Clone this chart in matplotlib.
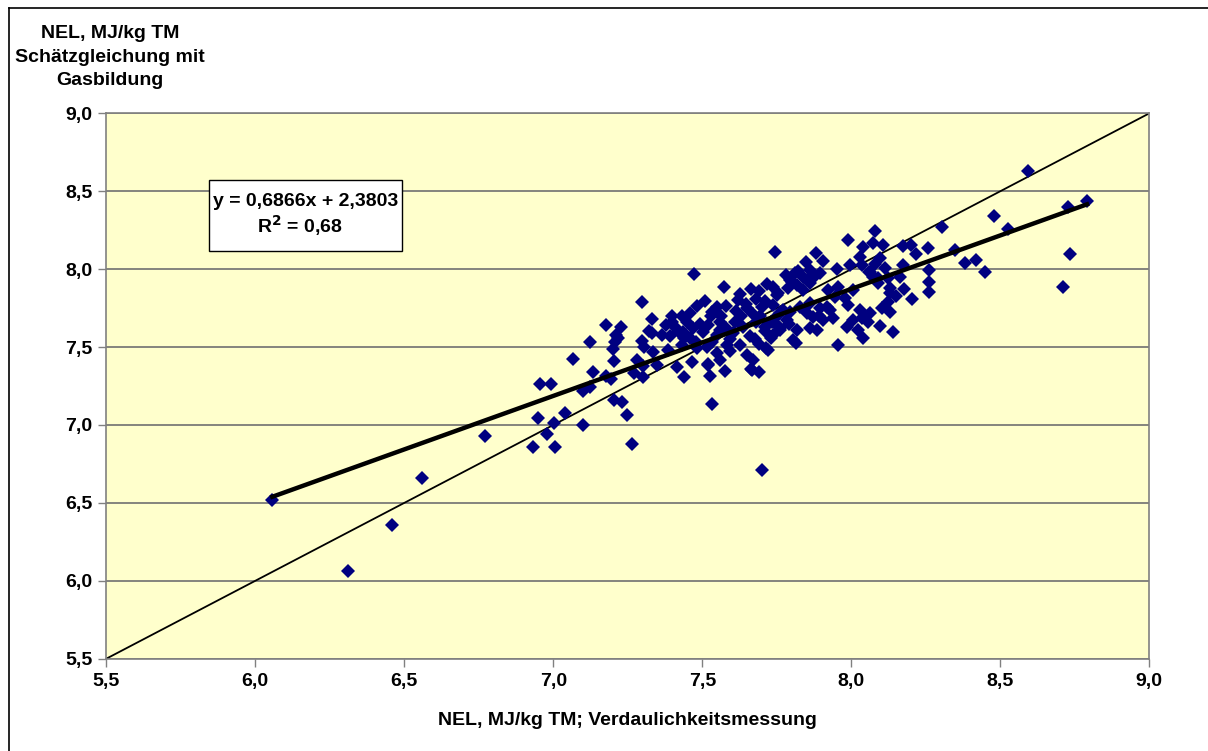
import numpy as np
import matplotlib as mpl

mpl.use('agg')

import matplotlib.pyplot as plt
from matplotlib.lines import Line2D

plt.rcParams['font.family'] = ['Liberation Sans', 'DejaVu Sans']

## Data: NEL (digestibility) vs NEL (gas production equation)
nel_measured = [
    # outliers, low end
    6.057, 6.31, 6.46, 6.56, 6.77,
    # left part of the cloud
    7.473, 7.298, 7.178, 7.226, 7.209, 7.218, 7.207, 7.199, 7.122, 7.320,
    7.299, 7.305, 7.065, 7.203, 7.280, 7.300, 7.134, 7.176, 7.193, 7.271,
    7.300, 6.956, 6.992, 7.123, 7.099, 7.205, 7.232, 6.950, 7.040, 7.003,
    7.101, 7.247, 6.978, 6.933, 7.006, 7.264, 7.533, 7.520,
    # dense core, left
    7.573, 7.663, 7.690, 7.718, 7.627, 7.510, 7.481, 7.548, 7.580, 7.612,
    7.646, 7.680, 7.710, 7.738, 7.750, 7.398, 7.433, 7.459, 7.534, 7.563,
    7.377, 7.409, 7.492, 7.503, 7.434, 7.559, 7.609, 7.638, 7.694, 7.710,
    7.729, 7.332, 7.330, 7.364, 7.391, 7.459, 7.531, 7.593, 7.660, 7.336,
    7.386, 7.431, 7.481, 7.548, 7.593, 7.627, 7.677, 7.714, 7.649, 7.671,
    7.347, 7.414, 7.464, 7.520, 7.559, 7.576, 7.663, 7.691, 7.439, 7.526,
    7.515, 7.582, 7.604, 7.666, 7.813, 7.700,
    7.45, 7.47, 7.44, 7.48, 7.53, 7.56, 7.58, 7.55, 7.52, 7.62,
    7.65, 7.67, 7.70, 7.63, 7.68, 7.71, 7.73, 7.69, 7.75, 7.72,
    7.40, 7.42,
    # dense core, right
    7.744, 7.990, 8.040, 8.074, 8.107, 7.880, 7.906, 8.029, 8.096, 7.849,
    7.861, 7.951, 7.996, 8.035, 8.063, 8.113, 7.811, 7.839, 7.794, 7.872,
    7.895, 7.817, 7.861, 7.789, 7.839, 7.755, 7.738, 8.074, 8.091, 8.124,
    7.923, 7.956, 8.007, 8.129, 8.124, 7.979, 7.945, 7.861, 7.895, 7.929,
    7.828, 7.794, 7.761, 7.738, 7.783, 7.872, 7.906, 7.940, 7.990, 8.029,
    8.063, 8.102, 8.129, 8.007, 8.035, 8.057, 7.985, 8.024, 8.096, 8.141,
    7.817, 7.861, 7.884, 7.738, 7.805, 8.040, 7.956, 7.761,
    7.78, 7.82, 7.80, 7.85, 7.75, 7.77, 7.79, 7.76, 7.85, 7.89,
    7.92, 8.06, 8.09, 8.08, 8.13, 8.15,
    # upper right
    8.303, 8.079, 8.175, 8.199, 8.258, 8.348, 8.381, 8.217, 8.175, 8.163,
    8.262, 8.262, 8.262, 8.203, 8.178, 8.479, 8.593, 8.526, 8.418, 8.448,
    8.727, 8.791, 8.733, 8.711,
]
nel_gas = [
    6.52, 6.06, 6.36, 6.66, 6.93,
    7.969, 7.787, 7.643, 7.626, 7.577, 7.556, 7.534, 7.487, 7.532, 7.602,
    7.540, 7.502, 7.421, 7.412, 7.417, 7.380, 7.338, 7.314, 7.293, 7.335,
    7.306, 7.262, 7.262, 7.245, 7.220, 7.158, 7.149, 7.046, 7.074, 7.012,
    7.000, 7.066, 6.942, 6.856, 6.856, 6.875, 7.134, 7.385,
    7.887, 7.872, 7.861, 7.904, 7.840, 7.793, 7.765, 7.759, 7.765, 7.733,
    7.776, 7.810, 7.797, 7.770, 7.834, 7.700, 7.700, 7.716, 7.727, 7.700,
    7.641, 7.630, 7.648, 7.598, 7.598, 7.609, 7.662, 7.630, 7.700, 7.630,
    7.662, 7.680, 7.588, 7.577, 7.570, 7.556, 7.534, 7.549, 7.570, 7.470,
    7.481, 7.513, 7.492, 7.460, 7.476, 7.513, 7.549, 7.492, 7.449, 7.417,
    7.385, 7.374, 7.406, 7.391, 7.417, 7.348, 7.357, 7.342, 7.306, 7.314,
    7.502, 7.513, 7.588, 7.352, 7.524, 6.71,
    7.66, 7.62, 7.56, 7.53, 7.70, 7.66, 7.62, 7.58, 7.64, 7.80,
    7.75, 7.71, 7.76, 7.70, 7.66, 7.60, 7.56, 7.52, 7.64, 7.48,
    7.66, 7.60,
    8.112, 8.187, 8.144, 8.166, 8.155, 8.101, 8.054, 8.080, 8.069, 8.048,
    7.994, 7.999, 8.026, 8.026, 7.983, 8.005, 7.973, 7.951, 7.930, 7.941,
    7.973, 7.898, 7.909, 7.877, 7.866, 7.845, 7.887, 7.951, 7.909, 7.941,
    7.866, 7.887, 7.866, 7.845, 7.791, 7.813, 7.823, 7.780, 7.749, 7.738,
    7.759, 7.727, 7.716, 7.662, 7.673, 7.694, 7.673, 7.684, 7.770, 7.738,
    7.716, 7.749, 7.727, 7.673, 7.684, 7.662, 7.630, 7.609, 7.634, 7.598,
    7.609, 7.620, 7.609, 7.577, 7.545, 7.556, 7.513, 7.609,
    7.96, 7.99, 7.92, 7.93, 7.70, 7.74, 7.65, 7.62, 7.72, 7.70,
    7.76, 7.98, 7.94, 8.03, 7.88, 7.83,
    8.272, 8.246, 8.148, 8.155, 8.133, 8.123, 8.037, 8.097, 8.026, 7.951,
    7.994, 7.919, 7.855, 7.808, 7.870, 8.341, 8.630, 8.257, 8.060, 7.979,
    8.400, 8.439, 8.099, 7.883,
]

## trend line from the equation shown in the chart
slope = 0.6866
intercept = 2.3803

ticks = [5.5, 6.0, 6.5, 7.0, 7.5, 8.0, 8.5, 9.0]
tick_labels = ['5,5', '6,0', '6,5', '7,0', '7,5', '8,0', '8,5', '9,0']

fig = plt.figure(figsize=(12.08, 7.51), dpi=100)
ax = fig.add_axes([0.088, 0.1229, 0.8634, 0.7262])
ax.set_facecolor('#FFFFCC')

ax.set_xlim(5.5, 9.0)
ax.set_ylim(5.5, 9.0)
ax.set_xticks(ticks)
ax.set_yticks(ticks)
ax.set_xticklabels(tick_labels, fontsize=14, fontweight='bold')
ax.set_yticklabels(tick_labels, fontsize=14, fontweight='bold')
ax.tick_params(direction='out', length=6, width=1, color='#808080', pad=4)
ax.yaxis.grid(True, color='#707070', linewidth=1.2)
ax.set_axisbelow(True)
for sp in ax.spines.values():
    sp.set_color('#808080')
    sp.set_linewidth(1.2)

# 1:1 line
ax.plot([5.5, 9.0], [5.5, 9.0], color='black', linewidth=1.3, zorder=2)

# points
ax.plot(nel_measured, nel_gas, linestyle='none', marker='D', markersize=7,
        color='#000080', markeredgewidth=0, zorder=3)

# regression line
xr = np.array([min(nel_measured), max(nel_measured)])
ax.plot(xr, slope * xr + intercept, color='black', linewidth=3.2, zorder=4)

# equation box
box = plt.Rectangle((0.0985, 0.747), 0.185, 0.130, transform=ax.transAxes,
                    facecolor='white', edgecolor='black', linewidth=1, zorder=5)
ax.add_patch(box)
ax.text(0.1025, 0.838, 'y = 0,6866x + 2,3803', transform=ax.transAxes,
        fontsize=14, fontweight='bold', va='center', ha='left', zorder=6)
ax.text(0.1855, 0.795, 'R$^{\\mathbf{2}}$ = 0,68', transform=ax.transAxes,
        fontsize=14, fontweight='bold', va='center', ha='center', zorder=6)

ax.set_xlabel('NEL, MJ/kg TM; Verdaulichkeitsmessung', fontsize=14,
              fontweight='bold', labelpad=16)
fig.text(0.091, 0.924, 'NEL, MJ/kg TM\nSchätzgleichung mit\nGasbildung',
         ha='center', va='center', fontsize=14, fontweight='bold',
         linespacing=1.5)

# frame around the figure (only top and left visible in the original)
fig.add_artist(Line2D([0.0075, 0.0075], [0.0, 0.989], color='black', linewidth=1.2))
fig.add_artist(Line2D([0.0075, 1.0], [0.989, 0.989], color='black', linewidth=1.2))

fig.savefig('out.png', dpi=100)
